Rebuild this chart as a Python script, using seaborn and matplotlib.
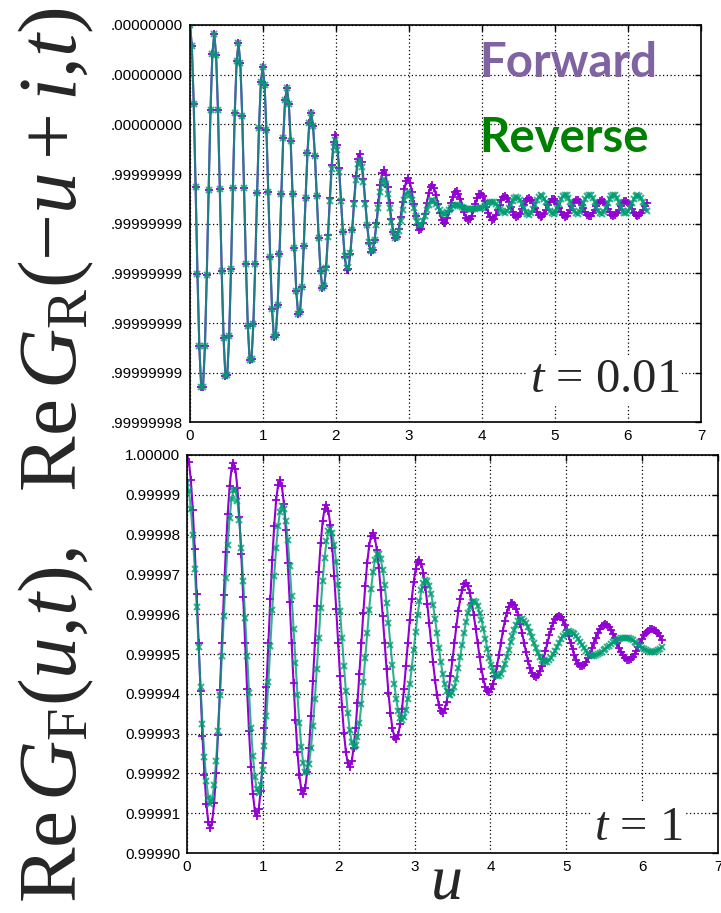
import numpy as np
import matplotlib
matplotlib.use("Agg")
import matplotlib.pyplot as plt
import seaborn as sns

# sample spacing in u, shared by all series
du = 2 * np.pi / 246

# ---- top panel (t = 0.01): distance below 1.0, in units of 1e-9 ----
# forward and reverse lie on top of each other for the first 72 samples
top_common = [
    0.00, 1.06, 4.00, 8.14, 12.54, 16.17, 18.21, 18.20, 16.17, 12.59, 8.30, 4.27, 1.44,
    0.45, 1.50, 4.30, 8.23, 12.37, 15.77, 17.66, 17.60, 15.65, 12.26, 8.22, 4.44, 1.82,
    0.92, 1.93, 4.56, 8.21, 12.04, 15.15, 16.86, 16.78, 15.03, 12.03, 8.46, 5.16, 2.87,
    2.12, 3.02, 5.28, 8.40, 11.67, 14.30, 15.72, 15.62, 14.10, 11.53, 8.50, 5.70, 3.78,
    3.17, 3.95, 5.86, 8.48, 11.21, 13.39, 14.55, 14.44, 13.20, 11.12, 8.68, 6.44, 4.92,
    4.45, 5.08, 6.57, 8.60, 10.70, 12.37, 13.25,
]
top_fwd_tail = [
    13.14, 12.18, 10.58, 8.72, 7.02, 5.88,
    5.54, 6.04, 7.21, 8.79, 10.41, 11.69, 12.35, 12.26, 11.51, 10.30, 8.88, 7.60, 6.74,
    6.50, 6.88, 7.73, 8.87, 10.04, 10.95, 11.42, 11.34, 10.81, 9.95, 8.95, 8.06, 7.46,
    7.30, 7.57, 8.17, 8.97, 9.78, 10.41, 10.73, 10.67, 10.27, 9.64, 8.91, 8.26, 7.83,
    7.72, 7.93, 8.39, 9.00, 9.61, 10.08, 10.32, 10.26, 9.96, 9.49, 8.94, 8.46, 8.14,
    8.06, 8.22, 8.57, 9.01, 9.47, 9.81, 9.98, 9.94, 9.72, 9.37, 8.98, 8.63, 8.40,
    8.35, 8.48, 8.74, 9.09, 9.43, 9.69, 9.81, 9.78, 9.59, 9.31, 8.99, 8.70, 8.52,
    8.48, 8.60, 8.84, 9.14, 9.45, 9.68, 9.79, 9.75, 9.58, 9.33, 9.05, 8.80, 8.64,
    8.61, 8.71, 8.90, 9.15, 9.39, 9.57, 9.66, 9.62, 9.49, 9.28, 9.05, 8.85, 8.73,
    8.70, 8.79, 8.97, 9.20, 9.42, 9.58, 9.66, 9.62, 9.49, 9.30, 9.08, 8.89, 8.77,
    8.75, 8.84, 9.01, 9.21, 9.42, 9.57, 9.64, 9.61, 9.48, 9.30, 9.10, 8.93, 8.82,
    8.80, 8.89, 9.04, 9.23, 9.42, 9.56, 9.62, 9.59, 9.47, 9.29, 9.10, 8.94, 8.84,
    8.82, 8.91, 9.06, 9.25, 9.43, 9.56, 9.62, 9.58, 9.47, 9.30, 9.12, 8.96, 8.87,
    8.86, 8.94, 9.08, 9.26, 9.44, 9.57, 9.62, 9.58, 9.47, 9.30, 9.12, 8.97,
]
top_rev_tail = [
    13.15, 12.22, 10.67, 8.87, 7.23, 6.12,
    5.79, 6.27, 7.38, 8.87, 10.41, 11.62, 12.25, 12.17, 11.47, 10.33, 9.00, 7.80, 7.00,
    6.77, 7.12, 7.92, 8.99, 10.08, 10.93, 11.37, 11.31, 10.84, 10.08, 9.20, 8.42, 7.89,
    7.75, 7.99, 8.50, 9.19, 9.89, 10.43, 10.70, 10.66, 10.35, 9.87, 9.31, 8.81, 8.49,
    8.40, 8.54, 8.83, 9.22, 9.62, 9.92, 10.07, 10.04, 9.88, 9.61, 9.31, 9.04, 8.86,
    8.82, 8.88, 9.00, 9.16, 9.32, 9.44, 9.50, 9.49, 9.43, 9.33, 9.22, 9.13, 9.06,
    9.05, 9.07, 9.11, 9.17, 9.22, 9.26, 9.28, 9.28, 9.27, 9.26, 9.24, 9.23, 9.22,
    9.22, 9.19, 9.13, 9.06, 8.98, 8.93, 8.90, 8.92, 9.00, 9.11, 9.25, 9.36, 9.43,
    9.45, 9.37, 9.23, 9.04, 8.86, 8.72, 8.65, 8.68, 8.81, 9.00, 9.22, 9.41, 9.53,
    9.55, 9.45, 9.27, 9.04, 8.81, 8.64, 8.56, 8.60, 8.73, 8.93, 9.16, 9.36, 9.48,
    9.50, 9.40, 9.22, 8.99, 8.77, 8.60, 8.53, 8.57, 8.71, 8.92, 9.15, 9.35, 9.47,
    9.49, 9.39, 9.21, 8.98, 8.76, 8.60, 8.53, 8.57, 8.71, 8.92, 9.15, 9.35, 9.47,
    9.49, 9.39, 9.21, 8.98, 8.76, 8.60, 8.53, 8.57, 8.72, 8.93, 9.16, 9.35, 9.47,
    9.48, 9.38, 9.20, 8.97, 8.75, 8.60, 8.53, 8.58, 8.72, 8.93, 9.16, 9.36,
]
top_fwd = top_common + top_fwd_tail
top_rev = top_common + top_rev_tail

# ---- bottom panel (t = 1): distance below 1.0, in units of 1e-5 ----
bot_fwd = [
    0.00, 0.17, 0.64, 1.39, 2.37, 3.50, 4.72, 5.93, 7.06, 8.03, 8.76, 9.23, 9.38,
    9.21, 8.74, 7.99, 7.03, 5.91, 4.72, 3.53, 2.43, 1.49, 0.78, 0.33, 0.19,
    0.36, 0.82, 1.55, 2.49, 3.57, 4.72, 5.87, 6.93, 7.83, 8.51, 8.94, 9.07,
    8.90, 8.45, 7.75, 6.85, 5.82, 4.72, 3.63, 2.63, 1.78, 1.14, 0.75, 0.63,
    0.79, 1.22, 1.88, 2.72, 3.69, 4.72, 5.74, 6.67, 7.46, 8.05, 8.41, 8.52,
    8.36, 7.96, 7.35, 6.56, 5.67, 4.72, 3.79, 2.93, 2.21, 1.67, 1.35, 1.26,
    1.41, 1.77, 2.34, 3.05, 3.86, 4.72, 5.56, 6.33, 6.98, 7.46, 7.75, 7.83,
    7.70, 7.36, 6.86, 6.22, 5.49, 4.72, 3.97, 3.29, 2.71, 2.29, 2.03, 1.97,
    2.09, 2.39, 2.83, 3.40, 4.04, 4.72, 5.38, 5.99, 6.49, 6.86, 7.08, 7.14,
    7.03, 6.77, 6.37, 5.87, 5.31, 4.72, 4.14, 3.62, 3.19, 2.87, 2.68, 2.64,
    2.74, 2.97, 3.31, 3.74, 4.22, 4.72, 5.21, 5.65, 6.02, 6.28, 6.44, 6.47,
    6.39, 6.20, 5.91, 5.55, 5.15, 4.72, 4.31, 3.93, 3.62, 3.39, 3.25, 3.22,
    3.29, 3.46, 3.71, 4.02, 4.36, 4.72, 5.07, 5.38, 5.64, 5.82, 5.93, 5.95,
    5.89, 5.75, 5.55, 5.30, 5.02, 4.72, 4.43, 4.18, 3.97, 3.81, 3.73, 3.71,
    3.76, 3.87, 4.03, 4.24, 4.48, 4.72, 4.96, 5.17, 5.35, 5.48, 5.55, 5.57,
    5.53, 5.43, 5.29, 5.12, 4.92, 4.72, 4.53, 4.36, 4.21, 4.11, 4.06, 4.05,
    4.08, 4.15, 4.26, 4.40, 4.56, 4.72, 4.88, 5.03, 5.15, 5.24, 5.29, 5.30,
    5.27, 5.21, 5.11, 4.99, 4.86, 4.72, 4.59, 4.47, 4.37, 4.30, 4.26, 4.25,
    4.27, 4.32, 4.40, 4.49, 4.60, 4.72, 4.84, 4.94, 5.03, 5.10, 5.14, 5.15,
    5.13, 5.08, 5.01, 4.92, 4.82, 4.72, 4.62, 4.53, 4.46, 4.41, 4.38, 4.37,
    4.39, 4.43, 4.48, 4.56, 4.64,
]
bot_rev = [
    0.71, 0.91, 1.36, 2.02, 2.86, 3.81, 4.83, 5.84, 6.77, 7.58, 8.20, 8.61, 8.76,
    8.64, 8.29, 7.70, 6.93, 6.02, 5.04, 4.04, 3.09, 2.25, 1.58, 1.11, 0.88, 0.89,
    1.15, 1.64, 2.33, 3.16, 4.09, 5.06, 5.99, 6.85, 7.56, 8.09, 8.40, 8.48,
    8.30, 7.91, 7.31, 6.56, 5.70, 4.79, 3.89, 3.05, 2.34, 1.78, 1.42, 1.28,
    1.36, 1.65, 2.13, 2.78, 3.54, 4.37, 5.22, 6.03, 6.74, 7.33, 7.74, 7.96, 7.96,
    7.76, 7.36, 6.80, 6.13, 5.37, 4.60, 3.84, 3.16, 2.59, 2.17, 1.92, 1.86,
    1.97, 2.26, 2.70, 3.27, 3.92, 4.61, 5.29, 5.93, 6.49, 6.92, 7.21, 7.33, 7.29,
    7.08, 6.73, 6.26, 5.70, 5.09, 4.48, 3.89, 3.37, 2.95, 2.65, 2.50, 2.48,
    2.62, 2.88, 3.26, 3.72, 4.23, 4.77, 5.28, 5.75, 6.14, 6.43, 6.61, 6.66,
    6.59, 6.41, 6.12, 5.76, 5.34, 4.89, 4.45, 4.03, 3.68, 3.40, 3.22, 3.13, 3.16,
    3.28, 3.49, 3.77, 4.11, 4.48, 4.85, 5.20, 5.51, 5.76, 5.94, 6.03, 6.04,
    5.97, 5.83, 5.62, 5.36, 5.07, 4.77, 4.47, 4.20, 3.98, 3.81, 3.70, 3.67,
    3.70, 3.80, 3.96, 4.15, 4.38, 4.63, 4.87, 5.09, 5.27, 5.42, 5.52, 5.56, 5.55,
    5.49, 5.38, 5.24, 5.08, 4.90, 4.71, 4.54, 4.39, 4.26, 4.18, 4.13, 4.13,
    4.16, 4.23, 4.33, 4.45, 4.58, 4.72, 4.85, 4.97, 5.07, 5.14, 5.18, 5.20,
    5.19, 5.16, 5.09, 5.01, 4.92, 4.82, 4.72, 4.63, 4.55, 4.49, 4.45, 4.43,
    4.44, 4.46, 4.50, 4.55, 4.62, 4.70, 4.77, 4.85, 4.92, 4.98, 5.02, 5.05, 5.05,
    5.02, 5.01, 4.98, 4.95, 4.91, 4.87, 4.83, 4.79, 4.75, 4.71, 4.68, 4.65,
    4.62, 4.61, 4.60, 4.60, 4.60, 4.61, 4.63, 4.66, 4.69, 4.73, 4.77, 4.81,
    4.85, 4.88, 4.91, 4.93, 4.94, 4.95, 4.94, 4.92, 4.90, 4.87, 4.83,
]

# axis tick labels as printed in the figure
top_ytick_labels = [".99999998"] + [".99999999"] * 5 + [".00000000"] * 3
bot_ytick_labels = ["0.99990", "0.99991", "0.99992", "0.99993", "0.99994",
                    "0.99995", "0.99996", "0.99997", "0.99998", "0.99999", "1.00000"]
x_ticks = [0, 1, 2, 3, 4, 5, 6, 7]

fwd_color = "#9400D3"
rev_color = "#009E73"

sns.set_style("white")
plt.rcParams["font.family"] = ["Liberation Sans", "DejaVu Sans"]
plt.rcParams["mathtext.fontset"] = "custom"
plt.rcParams["mathtext.rm"] = "Liberation Serif"
plt.rcParams["mathtext.it"] = "Liberation Serif:italic"
plt.rcParams["mathtext.bf"] = "Liberation Serif:bold"

W, H = 721, 913
fig = plt.figure(figsize=(W / 100, H / 100), dpi=100)


def px_rect(left, top, right, bottom):
    return [left / W, 1 - bottom / H, (right - left) / W, (bottom - top) / H]


ax_top = fig.add_axes(px_rect(190, 25, 701, 422.5))
ax_bot = fig.add_axes(px_rect(187, 455, 718, 853))


def draw_pair(ax, fwd, rev):
    u_f = np.arange(len(fwd)) * du
    u_r = np.arange(len(rev)) * du
    sns.lineplot(x=u_f, y=-np.array(fwd), ax=ax, color=fwd_color, linewidth=1.5,
                 marker="+", markersize=6, markeredgewidth=1.3,
                 markeredgecolor=fwd_color, sort=False, errorbar=None)
    sns.lineplot(x=u_r, y=-np.array(rev), ax=ax, color=rev_color, linewidth=1.5,
                 marker="x", markersize=4.5, markeredgewidth=1.4,
                 markeredgecolor=rev_color, alpha=0.8, sort=False, errorbar=None)


def style_axis(ax):
    ax.set_xlim(0, 7)
    ax.set_xticks(x_ticks)
    ax.set_xticklabels([str(t) for t in x_ticks])
    ax.tick_params(direction="in", length=4, width=1, top=True, right=True,
                   labelsize=11, colors="black", pad=5)
    ax.grid(True, linestyle=(0, (1, 2)), color="black", linewidth=0.9)
    for s in ax.spines.values():
        s.set_color("black")
        s.set_linewidth(1.2)
    ax.set_xlabel("")
    ax.set_ylabel("")


draw_pair(ax_top, top_fwd, top_rev)
ax_top.set_ylim(-20, 0)
ax_top.set_yticks([-20 + 2.5 * i for i in range(9)])
ax_top.set_yticklabels(top_ytick_labels)
style_axis(ax_top)

draw_pair(ax_bot, bot_fwd, bot_rev)
ax_bot.set_ylim(-10, 0)
ax_bot.set_yticks([-10 + i for i in range(11)])
ax_bot.set_yticklabels(bot_ytick_labels)
style_axis(ax_bot)

# legend-like labels
fig.text(479 / W, 1 - 77 / H, "Forward", color="#8064A2", fontsize=34,
         fontweight="bold", family=["Lato", "DejaVu Sans"], ha="left", va="baseline")
fig.text(479 / W, 1 - 152 / H, "Reverse", color="#008000", fontsize=34,
         fontweight="bold", family=["Lato", "DejaVu Sans"], ha="left", va="baseline")

# time labels sit under the spines but over the curves and grid
box = dict(facecolor="white", edgecolor="none", pad=2)
ax_top.text(530 / W, 1 - 392 / H, r"$t$ = 0.01", fontsize=35, transform=fig.transFigure,
            family=["Liberation Serif"], ha="left", va="baseline", bbox=box,
            zorder=2.2, clip_on=False)
ax_bot.text(594 / W, 1 - 840 / H, r"$t$ = 1", fontsize=35, transform=fig.transFigure,
            family=["Liberation Serif"], ha="left", va="baseline", bbox=box,
            zorder=2.2, clip_on=False)

# shared axis titles
fig.text(56 / W, 1 - 455 / H,
         r"$\mathrm{Re}\,G_{\mathrm{F}}(u{,}t),\ \ \mathrm{Re}\,G_{\mathrm{R}}(-u+i{,}t)$",
         rotation=90, fontsize=60, ha="center", va="center")
fig.text(446 / W, 1 - 911 / H, r"$u$", fontsize=46, ha="center", va="bottom")

fig.savefig("out.png", dpi=100)
